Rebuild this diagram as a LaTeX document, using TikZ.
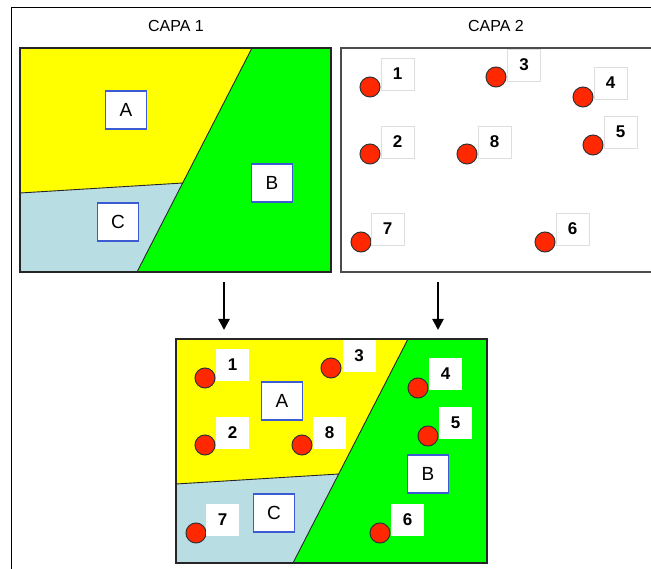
\documentclass[tikz,border=0pt]{standalone}
\usepackage{fontspec}
\setmainfont{Liberation Sans}
\newfontfamily\arialfont{Liberation Sans}
\usetikzlibrary{arrows.meta}

\definecolor{zoneyellow}{RGB}{255,255,0}
\definecolor{zonegreen}{RGB}{0,255,0}
\definecolor{zoneblue}{RGB}{184,221,226}
\definecolor{pointred}{RGB}{255,40,0}
\definecolor{tagblue}{RGB}{60,90,210}
\definecolor{tagrim}{RGB}{222,222,222}

% Polygon regions A (yellow), B (green), C (light blue) in a 311 x 224 frame
\newcommand{\drawzones}{%
  \fill[zoneyellow] (0,0) -- (232,0) -- (163,135) -- (0,145) -- cycle;
  \fill[zonegreen] (232,0) -- (311,0) -- (311,224) -- (117,224) -- cycle;
  \fill[zoneblue] (0,145) -- (163,135) -- (117,224) -- (0,224) -- cycle;
  \draw[border] (232,0) -- (117,224);
  \draw[border] (0,145) -- (163,135);
  \draw[frame] (0,0) rectangle (311,224);
  \node[zonetag] (zA) at (106,62) {A};
  \node[zonetag] (zB) at (252,135) {B};
  \node[zonetag] (zC) at (98,174) {C};
}

% Numbered points, positions relative to the frame corner
\newcommand{\drawpoints}[1]{%
  \foreach \n/\cx/\cy/\lx/\ly in {1/29/39/56.5/26, 3/155/29/183/17, 4/242/49/269.5/35,
      2/29/106/56.5/94, 8/126/106/153.5/94, 5/252/97/279.5/84,
      7/20/194/46.5/181, 6/204/194/231.5/181}{%
    \node[dot] (pt\n) at (\cx,\cy) {};
    \node[numtag,#1] (tag\n) at (\lx,\ly) {\n};
  }%
}

\begin{document}
\begin{tikzpicture}[x=1pt,y=-1pt,
    border/.style={black!85, line width=0.9pt},
    frame/.style={black!85, line width=2pt},
    zonetag/.style={draw=tagblue, line width=1.2pt, fill=white, minimum width=41pt,
      minimum height=38pt, inner sep=0pt, font=\arialfont\fontsize{19}{22}\selectfont},
    numtag/.style={fill=white, minimum width=33pt, minimum height=32pt, inner sep=0pt,
      font=\arialfont\bfseries\fontsize{17}{20}\selectfont},
    dot/.style={circle, draw=black!80, line width=1pt, fill=pointred,
      minimum size=20pt, inner sep=0pt},
    capa/.style={font=\arialfont\fontsize{16}{19}\selectfont},
    flow/.style={line width=2.4pt, -{Triangle[length=11pt, width=11pt]}}]
  \useasboundingbox (0,0) rectangle (651,569);
  \fill[white] (0,0) rectangle (651,569);

  % surrounding frame, open to the right and bottom
  \draw[black, line width=1pt] (11,569) -- (11,8) -- (651,8);

  \node[capa] (t1) at (176,26) {CAPA 1};
  \node[capa] (t2) at (496,26) {CAPA 2};

  % layer 1: regions
  \begin{scope}[shift={(20,48)}, name prefix=one-]
    \drawzones
  \end{scope}

  % layer 2: points
  \draw[black!70, line width=1.5pt] (652,48) -- (341,48) -- (341,272) -- (652,272);
  \begin{scope}[shift={(341,48)}, name prefix=two-]
    \drawpoints{draw=tagrim, line width=0.8pt}
  \end{scope}

  % overlay arrows
  \coordinate (aL) at (224,282);
  \coordinate (aLend) at (224,330);
  \coordinate (aR) at (438,282);
  \coordinate (aRend) at (438,330);
  \draw[flow] (aL) -- (aLend);
  \draw[flow] (aR) -- (aRend);

  % overlay result: regions with points
  \begin{scope}[shift={(176,339)}, name prefix=res-]
    \drawzones
    \drawpoints{}
  \end{scope}
\end{tikzpicture}
\end{document}
